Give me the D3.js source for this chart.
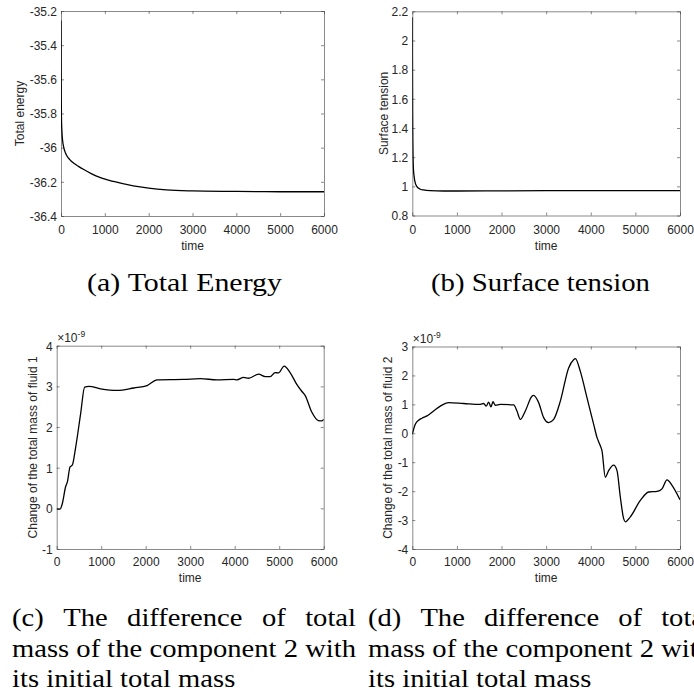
<!DOCTYPE html>
<html><head><meta charset="utf-8">
<script src="https://cdn.jsdelivr.net/npm/d3@7"></script>
<style>body{margin:0;background:#fff}svg{display:block}</style>
</head><body>
<svg id="c" width="694" height="694"></svg>
<script>
// ---------- data ----------
const xTicks = [0,1000,2000,3000,4000,5000,6000];
const xTickLabels = ["0","1000","2000","3000","4000","5000","6000"];

const energyTime  = [0,3,6,10,20,35,60,100,140,200,300,390,520,700,900,1200,1650,2000,2400,3000,3900,5000,6000];
const energyValue = [-35.255,-35.55,-35.72,-35.82,-35.9,-35.955,-35.995,-36.03,-36.05,-36.07,-36.093,-36.108,-36.128,-36.153,-36.175,-36.198,-36.224,-36.237,-36.247,-36.253,-36.256,-36.258,-36.258];
const energyTicks = [-36.4,-36.2,-36,-35.8,-35.6,-35.4,-35.2];
const energyTickLabels = ["-36.4","-36.2","-36","-35.8","-35.6","-35.4","-35.2"];

const tensionTime  = [0,3,6,10,15,25,40,60,100,170,250,400,700,1000,2000,3000,4000,5000,6000];
const tensionValue = [2.16,1.75,1.5,1.33,1.22,1.12,1.07,1.03,1.0,0.982,0.975,0.970,0.968,0.968,0.969,0.970,0.970,0.970,0.970];
const tensionTicks = [0.8,1,1.2,1.4,1.6,1.8,2,2.2];
const tensionTickLabels = ["0.8","1","1.2","1.4","1.6","1.8","2","2.2"];

const mass1Time  = [0,75,127,200,240,300,350,426,538,628,725,986,1360,1733,2032,2257,2854,3228,3602,3975,4050,4200,4311,4536,4685,4797,4909,4984,5111,5245,5395,5507,5582,5731,5880,5955,6000];
const mass1Value = [-0.02,-0.02,0.12,0.53,0.65,1.02,1.06,1.5,2.33,2.98,3.0,2.94,2.9,2.96,3.02,3.16,3.17,3.19,3.16,3.17,3.16,3.22,3.2,3.3,3.24,3.24,3.34,3.33,3.5,3.34,3.05,2.88,2.78,2.37,2.16,2.15,2.19];
const mass1Ticks = [-1,0,1,2,3,4];
const mass1TickLabels = ["-1","0","1","2","3","4"];

const mass2Time  = [0,67,142,217,329,478,628,814,1150,1524,1600,1659,1711,1763,1808,1860,1973,2272,2346,2421,2533,2682,2720,2832,2944,3056,3168,3318,3504,3616,3654,3766,3915,4065,4139,4214,4251,4326,4400,4513,4588,4663,4737,4775,4887,5111,5298,5485,5597,5709,5821,6000];
const mass2Value = [-0.03,0.31,0.45,0.52,0.6,0.77,0.94,1.06,1.03,1.0,1.03,0.94,1.08,0.91,1.09,0.97,1.0,0.98,0.77,0.48,0.77,1.28,1.31,1.06,0.54,0.37,0.48,1.11,2.26,2.54,2.58,2.14,1.23,0.31,-0.14,-0.43,-0.6,-1.52,-1.29,-1.1,-1.29,-2.21,-2.95,-3.06,-2.89,-2.32,-2.03,-2.01,-1.92,-1.61,-1.8,-2.3];
const mass2Ticks = [-4,-3,-2,-1,0,1,2,3];
const mass2TickLabels = ["-4","-3","-2","-1","0","1","2","3"];

const captionA = "(a) Total Energy";
const captionB = "(b) Surface tension";
const captionCD = [["(c)","The","difference","of","total"],["mass","of","the","component","2","with"],["its","initial","total","mass"]];
const captionDLead = "(d)";

// ---------- drawing ----------
const svg = d3.select("#c");
const sans = "Liberation Sans, Arial, Helvetica, sans-serif";
const txt = "#262626";
const fsz = 12;

const panels = [
  {box:[61,324,11,216], yDom:[-36.4,-35.2], ticks:energyTicks, labels:energyTickLabels, t:energyTime, v:energyValue, ylabel:"Total energy", ylabX:24, tickBase:233.5, timeBase:249.5},
  {box:[412.3,680,11.3,215.5], yDom:[0.8,2.2], ticks:tensionTicks, labels:tensionTickLabels, t:tensionTime, v:tensionValue, ylabel:"Surface tension", ylabX:387.5, tickBase:233.5, timeBase:249.5},
  {box:[56.7,323.7,345.7,549], yDom:[-1,4], ticks:mass1Ticks, labels:mass1TickLabels, t:mass1Time, v:mass1Value, ylabel:"Change of the total mass of fluid 1", ylabX:36.5, tickBase:565.5, timeBase:582, exp:true},
  {box:[412.3,680,346.5,549], yDom:[-4,3], ticks:mass2Ticks, labels:mass2TickLabels, t:mass2Time, v:mass2Value, ylabel:"Change of the total mass of fluid 2", ylabX:392, tickBase:565.5, timeBase:582, exp:true}
];

const tl = 3;
panels.forEach((p,i) => {
  const [x0,x1,y0,y1] = p.box;
  const x = d3.scaleLinear().domain([0,6000]).range([x0,x1]);
  const y = d3.scaleLinear().domain(p.yDom).range([y1,y0]);
  const g = svg.append("g");
  const axc = "#3a3a3a", axw = 0.6;

  svg.append("clipPath").attr("id","cp"+i).append("rect").attr("x",x0).attr("y",y0).attr("width",x1-x0).attr("height",y1-y0);

  const xb = g.append("g").attr("transform",`translate(0,${y1})`)
     .call(d3.axisBottom(x).tickValues(xTicks).tickSizeInner(-tl).tickSizeOuter(0).tickFormat((d,k)=>xTickLabels[k]));
  const xt = g.append("g").attr("transform",`translate(0,${y0})`)
     .call(d3.axisTop(x).tickValues(xTicks).tickSizeInner(-tl).tickSizeOuter(0).tickFormat(""));
  const yl = g.append("g").attr("transform",`translate(${x0},0)`)
     .call(d3.axisLeft(y).tickValues(p.ticks).tickSizeInner(-tl).tickSizeOuter(0).tickFormat((d,k)=>p.labels[k]));
  const yr = g.append("g").attr("transform",`translate(${x1},0)`)
     .call(d3.axisRight(y).tickValues(p.ticks).tickSizeInner(-tl).tickSizeOuter(0).tickFormat(""));
  [xb,xt,yl,yr].forEach(a=>{
    a.attr("font-family",null).attr("font-size",null);
    a.select(".domain").attr("stroke",axc).attr("stroke-width",axw);
    a.selectAll(".tick line").attr("stroke",axc).attr("stroke-width",axw);
    a.selectAll("text").attr("fill",txt).style("font-family",sans).style("font-size",fsz+"px");
  });
  xb.selectAll(".tick text").attr("y", p.tickBase - y1).attr("dy",0);
  yl.selectAll(".tick text").attr("x",-4).attr("dy","0.36em");

  const pts = p.t.map((tt,k)=>[tt,p.v[k]]);
  g.append("path").datum(pts).attr("clip-path",`url(#cp${i})`)
    .attr("fill","none").attr("stroke","#000").attr("stroke-width",1.3).attr("stroke-linejoin","round")
    .attr("d", d3.line().x(d=>x(d[0])).y(d=>y(d[1])).curve(d3.curveMonotoneX));

  g.append("text").attr("x",(x0+x1)/2).attr("y",p.timeBase).attr("text-anchor","middle")
    .style("font-family",sans).style("font-size",fsz+"px").attr("fill",txt).text("time");
  g.append("text").attr("transform",`translate(${p.ylabX},${(y0+y1)/2}) rotate(-90)`).attr("text-anchor","middle")
    .style("font-family",sans).style("font-size",fsz+"px").attr("fill",txt).text(p.ylabel);
  if (p.exp) {
    const e = g.append("text").attr("x",x0+0.5).attr("y",y0-3.5).style("font-family",sans).style("font-size",fsz+"px").attr("fill",txt);
    e.append("tspan").text("\u00d710");
    e.append("tspan").style("font-size","8.5px").attr("dy",-5.5).text("-9");
  }
});

// ---------- captions ----------
const serif = "'Liberation Serif', 'Times New Roman', 'DejaVu Serif', serif";
const fs = 25;
const cap = svg.append("g").style("font-family",serif).style("font-size",fs+"px").attr("fill","#000");
function measure(s){ const t = cap.append("text").text(s); const w = t.node().getComputedTextLength(); t.remove(); return w; }
const spaceW = measure("a a") - measure("aa");
function lineWidth(words){ return d3.sum(words, w=>measure(w)) + spaceW*(words.length-1); }
const kx = 344 / lineWidth(captionCD[1]);
function drawWords(words, left, base, width, k) {
  k = k || kx;
  const ws = words.map(w=>measure(w)*k);
  const gap = (width == null) ? spaceW*k : (width - d3.sum(ws)) / (words.length-1);
  let xx = left;
  words.forEach((w,j)=>{
    cap.append("text").attr("transform",`translate(${xx},${base}) scale(${k},1)`).text(w);
    xx += ws[j] + gap;
  });
}
const aw = captionA.split(" "), bw = captionB.split(" ");
drawWords(aw, 87, 291, null, 195 / lineWidth(aw));
drawWords(bw, 431, 291, null, 219 / lineWidth(bw));
[12, 368].forEach((left,c)=>{
  const l1 = captionCD[0].slice(); if (c===1) l1[0] = captionDLead;
  drawWords(l1, left, 626, 344);
  drawWords(captionCD[1], left, 657, 344);
  drawWords(captionCD[2], left, 687, null);
});
</script>
</body></html>
